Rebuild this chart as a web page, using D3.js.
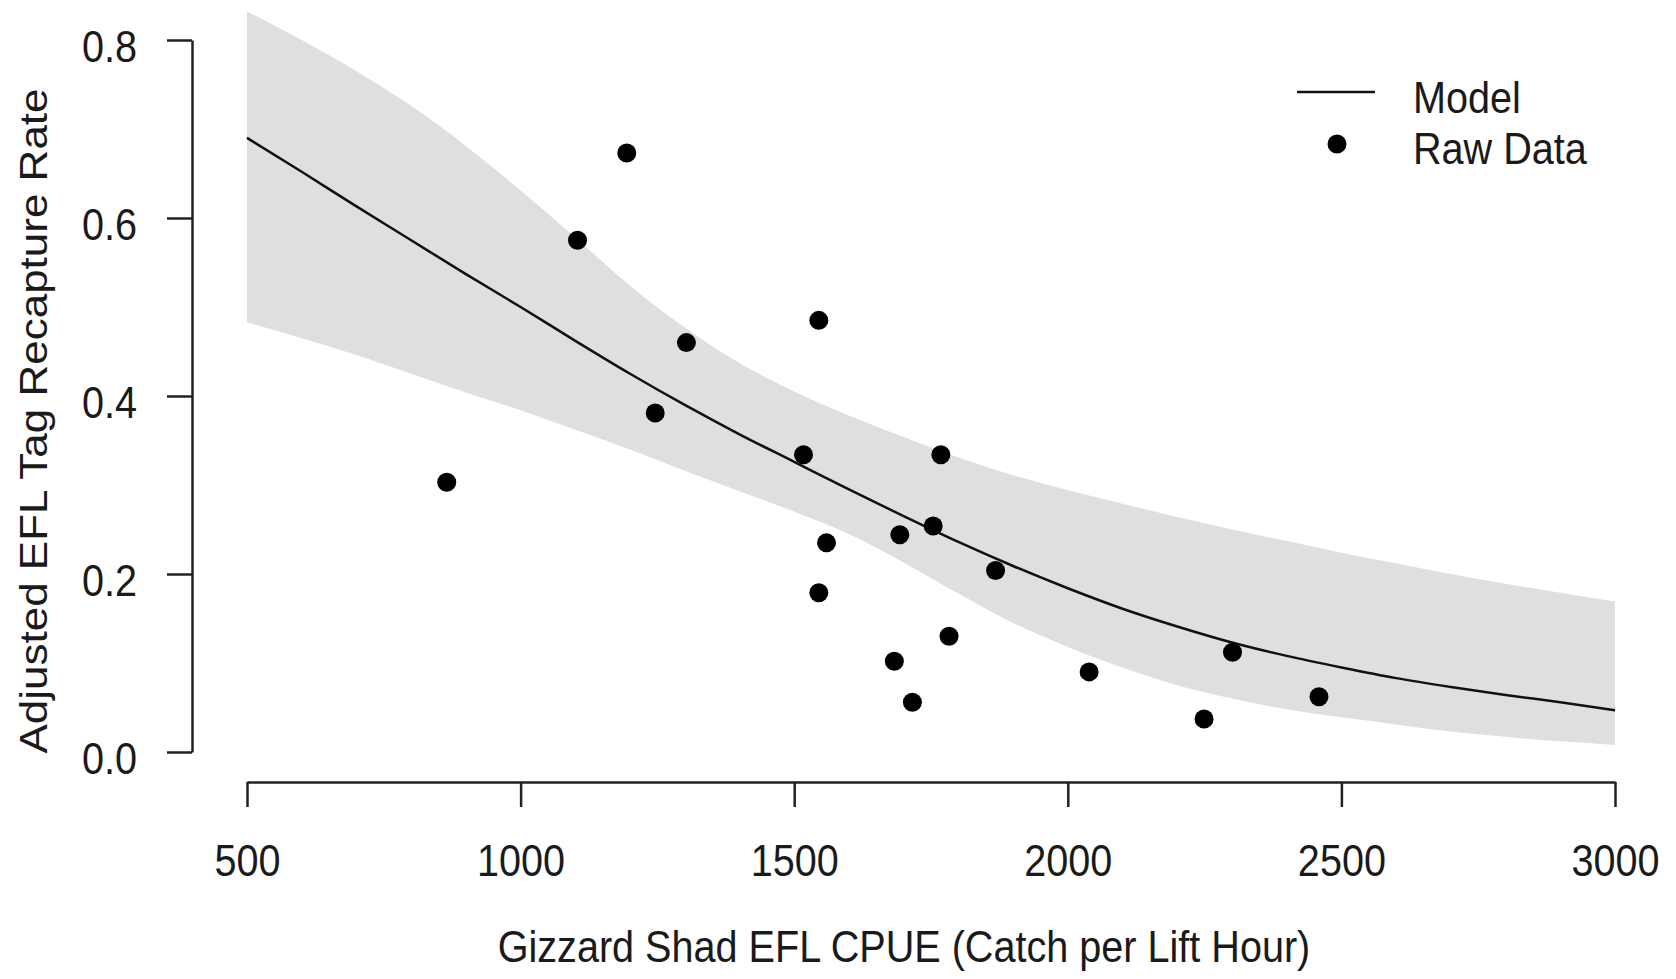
<!DOCTYPE html>
<html>
<head>
<meta charset="utf-8">
<script src="https://cdn.jsdelivr.net/npm/d3@7"></script>
<style>
  body { margin: 0; background: #fff; }
  text { font-family: "Liberation Sans", Arial, sans-serif; fill: #1a1a1a; }
</style>
</head>
<body>
<div id="chart"></div>
<script>
// fitted model and confidence band
var fitX = [500, 600, 700, 800, 900, 1000, 1100, 1200, 1300, 1400, 1500, 1600, 1700,
            1800, 1900, 2000, 2100, 2200, 2300, 2400, 2500, 2600, 2700, 2800, 2900, 3000];
var fitY = [0.690, 0.652, 0.613, 0.575, 0.537, 0.500, 0.462, 0.425, 0.390, 0.357, 0.326, 0.295, 0.265,
            0.236, 0.209, 0.184, 0.161, 0.141, 0.123, 0.108, 0.095, 0.083, 0.073, 0.064, 0.056, 0.047];
var upperY = [0.832, 0.800, 0.765, 0.726, 0.681, 0.631, 0.578, 0.524, 0.477, 0.437, 0.405, 0.378, 0.354,
              0.331, 0.311, 0.294, 0.279, 0.264, 0.250, 0.237, 0.224, 0.212, 0.200, 0.189, 0.179, 0.169];
var lowerY = [0.483, 0.465, 0.446, 0.425, 0.404, 0.384, 0.362, 0.340, 0.316, 0.293, 0.270, 0.245, 0.213,
              0.178, 0.145, 0.118, 0.095, 0.075, 0.060, 0.048, 0.039, 0.031, 0.023, 0.017, 0.012, 0.008];

// raw data points
var rawX = [865, 1104, 1194, 1246, 1303, 1517, 1545, 1545, 1559, 1683,
            1693, 1716, 1754, 1768, 1783, 1868, 2039, 2249, 2301, 2459];
var rawY = [0.303, 0.575, 0.673, 0.381, 0.460, 0.334, 0.485, 0.179, 0.235, 0.102,
            0.244, 0.056, 0.254, 0.334, 0.130, 0.204, 0.090, 0.037, 0.112, 0.062];

var xTicks = [500, 1000, 1500, 2000, 2500, 3000];
var yTicks = [0, 0.2, 0.4, 0.6, 0.8];

var W = 1676, H = 979;
var sx = 0.9; // the source picture is squeezed horizontally
var fontSize = 44;

var svg = d3.select("#chart").append("svg")
    .attr("width", W)
    .attr("height", H);

var x = d3.scaleLinear().domain([500, 3000]).range([247, 1615]);
var y = d3.scaleLinear().domain([0, 0.8]).range([752, 40]);

var fit = fitX.map(function(d, i) {
    return { x: d, y: fitY[i], lo: lowerY[i], hi: upperY[i] };
});
var raw = rawX.map(function(d, i) { return { x: d, y: rawY[i] }; });

// confidence band
var band = d3.area()
    .x(function(d) { return x(d.x); })
    .y0(function(d) { return y(d.lo); })
    .y1(function(d) { return y(d.hi); })
    .curve(d3.curveMonotoneX);

svg.append("path")
    .datum(fit)
    .attr("d", band)
    .attr("fill", "#dfdfdf");

// model line
var line = d3.line()
    .x(function(d) { return x(d.x); })
    .y(function(d) { return y(d.y); })
    .curve(d3.curveMonotoneX);

svg.append("path")
    .datum(fit)
    .attr("d", line)
    .attr("fill", "none")
    .attr("stroke", "#111")
    .attr("stroke-width", 2.5);

// points
svg.selectAll(".pt")
    .data(raw)
    .enter().append("circle")
    .attr("class", "pt")
    .attr("cx", function(d) { return x(d.x); })
    .attr("cy", function(d) { return y(d.y); })
    .attr("r", 9.5)
    .attr("fill", "#000");

// y axis, R style (no box, ticks outward)
var yAxis = d3.axisLeft(y)
    .tickValues(yTicks)
    .tickSize(25)
    .tickSizeOuter(0)
    .tickFormat(d3.format(".1f"));

var gy = svg.append("g")
    .attr("transform", "translate(192,0)")
    .call(yAxis);

// x axis sits below the plot, detached
var xAxis = d3.axisBottom(x)
    .tickValues(xTicks)
    .tickSize(25)
    .tickSizeOuter(0)
    .tickFormat(d3.format("d"));

var gx = svg.append("g")
    .attr("transform", "translate(0,782)")
    .call(xAxis);

[gx, gy].forEach(function(g) {
    g.selectAll(".domain").attr("stroke", "#222").attr("stroke-width", 2.5);
    g.selectAll(".tick line").attr("stroke", "#222").attr("stroke-width", 2.5);
    g.selectAll("text")
        .style("font-size", fontSize + "px")
        .attr("fill", "#1a1a1a")
        .attr("transform", "scale(" + sx + ",1)");
});

gy.selectAll("text")
    .attr("x", -55 / sx)
    .attr("dy", 0)
    .attr("y", 21);

gx.selectAll("text")
    .attr("dy", 0)
    .attr("y", 94);

// axis titles
svg.append("text")
    .attr("transform", "translate(904,962) scale(" + sx + ",1)")
    .attr("text-anchor", "middle")
    .style("font-size", fontSize + "px")
    .text("Gizzard Shad EFL CPUE (Catch per Lift Hour)");

svg.append("text")
    .attr("transform", "translate(47,421) scale(" + sx + ",1) rotate(-90)")
    .attr("text-anchor", "middle")
    .style("font-size", fontSize + "px")
    .text("Adjusted EFL Tag Recapture Rate");

// legend
var legend = svg.append("g");

legend.append("line")
    .attr("x1", 1297).attr("x2", 1375)
    .attr("y1", 92).attr("y2", 92)
    .attr("stroke", "#111")
    .attr("stroke-width", 2.5);

legend.append("circle")
    .attr("cx", 1337).attr("cy", 144)
    .attr("r", 9.5)
    .attr("fill", "#000");

legend.selectAll(".lab")
    .data(["Model", "Raw Data"])
    .enter().append("text")
    .attr("class", "lab")
    .attr("transform", function(d, i) {
        return "translate(1413," + (113 + i * 51) + ") scale(" + sx + ",1)";
    })
    .style("font-size", fontSize + "px")
    .text(function(d) { return d; });
</script>
</body>
</html>
